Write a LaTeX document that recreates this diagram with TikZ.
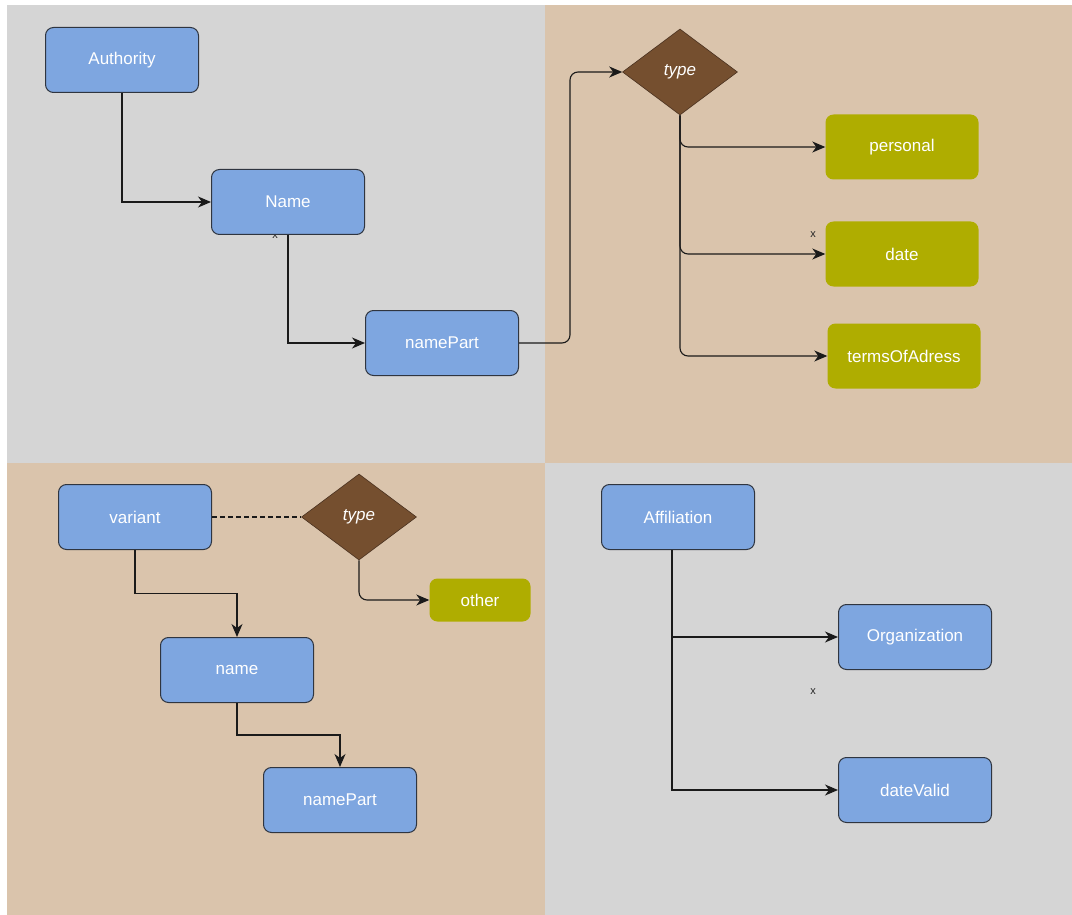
\documentclass[tikz,border=0pt]{standalone}
\usepackage{fontspec}
\setmainfont{Liberation Sans}
\usetikzlibrary{shapes.geometric,arrows.meta,calc}

\definecolor{panelgray}{HTML}{D5D5D5}
\definecolor{paneltan}{HTML}{DAC4AC}
\definecolor{boxblue}{HTML}{7EA6E0}
\definecolor{boxedge}{HTML}{2F3540}
\definecolor{olive}{HTML}{AFAD00}
\definecolor{choice}{HTML}{754F2F}
\definecolor{choiceedge}{HTML}{4A3220}
\definecolor{wire}{HTML}{1A1A1A}

\newcommand{\labelfont}{\fontsize{17}{20}\selectfont}

\tikzset{
  element/.style={rectangle, rounded corners=8pt, draw=boxedge, line width=1pt,
    fill=boxblue, minimum width=153pt, minimum height=65pt, text=white,
    font=\labelfont, inner sep=0pt},
  value/.style={rectangle, rounded corners=8pt, fill=olive, minimum width=153pt,
    minimum height=65pt, text=white, font=\labelfont, inner sep=0pt},
  choicebox/.style={diamond, aspect=1.35, draw=choiceedge, line width=0.6pt, fill=choice,
    minimum width=115pt, minimum height=86pt, text=white, inner sep=0pt,
    font=\labelfont\itshape},
  link/.style={draw=wire, line width=1.1pt, -{Stealth[length=13pt,width=11pt,inset=4pt]}},
  bendlink/.style={link, rounded corners=8pt},
  tick/.style={text=black!85, font=\fontsize{11}{12}\selectfont, inner sep=0pt},
}

\begin{document}
\begin{tikzpicture}[x=1pt,y=-1pt]
  \useasboundingbox (0,0) rectangle (1072,915);
  \fill[white] (0,0) rectangle (1072,915);

  % four background panels
  \fill[panelgray] (7,5) rectangle (545,463);
  \fill[paneltan]  (545,5) rectangle (1072,463);
  \fill[paneltan]  (7,463) rectangle (545,915);
  \fill[panelgray] (545,463) rectangle (1072,915);

  % small markers
  \node[tick] (xa) at (275,236) {x};
  \node[tick] (xb) at (813,235) {x};
  \node[tick] (xc) at (813,692) {x};

  % name authority block
  \node[element] (auth) at (122,60) {Authority};
  \node[element] (name1) at (288,202) {Name};
  \node[element] (part1) at (442,343) {namePart};
  \node[choicebox] (type1) at (680,72) {type};
  \node[value] (personal) at (902,147) {personal};
  \node[value] (date) at (902,254) {date};
  \node[value] (terms) at (904,356) {termsOfAdress};

  % variant block
  \node[element] (variant) at (135,517) {variant};
  \node[choicebox] (type2) at (359,517) {type};
  \node[value, minimum width=101pt, minimum height=43pt] (other) at (480,600) {other};
  \node[element] (name2) at (237,670) {name};
  \node[element] (part2) at (340,800) {namePart};

  % affiliation block
  \node[element] (affil) at (678,517) {Affiliation};
  \node[element] (org) at (915,637) {Organization};
  \node[element] (valid) at (915,790) {dateValid};

  % connectors
  \draw[link] (auth.south) |- (name1.west);
  \draw[link] (name1.south) |- (part1.west);
  \draw[bendlink] (part1.east) -- ++(51,0) |- (type1.west);
  \draw[bendlink] (type1.south) |- (personal.west);
  \draw[bendlink] (type1.south) |- (date.west);
  \draw[bendlink] (type1.south) |- (terms.west);

  \draw[draw=wire, line width=1.1pt, dash pattern=on 5pt off 3pt] (variant.east) -- (type2.west);
  \draw[bendlink] (type2.south) |- (other.west);
  \draw[link] (variant.south) |- ($(variant.south)!0.5!(name2.north)$) -| (name2.north);
  \draw[link] (name2.south) |- ($(name2.south)!0.5!(part2.north)$) -| (part2.north);

  \draw[link] ([xshift=-6pt]affil.south) |- (org.west);
  \draw[link] ([xshift=-6pt]affil.south) |- (valid.west);
\end{tikzpicture}
\end{document}
